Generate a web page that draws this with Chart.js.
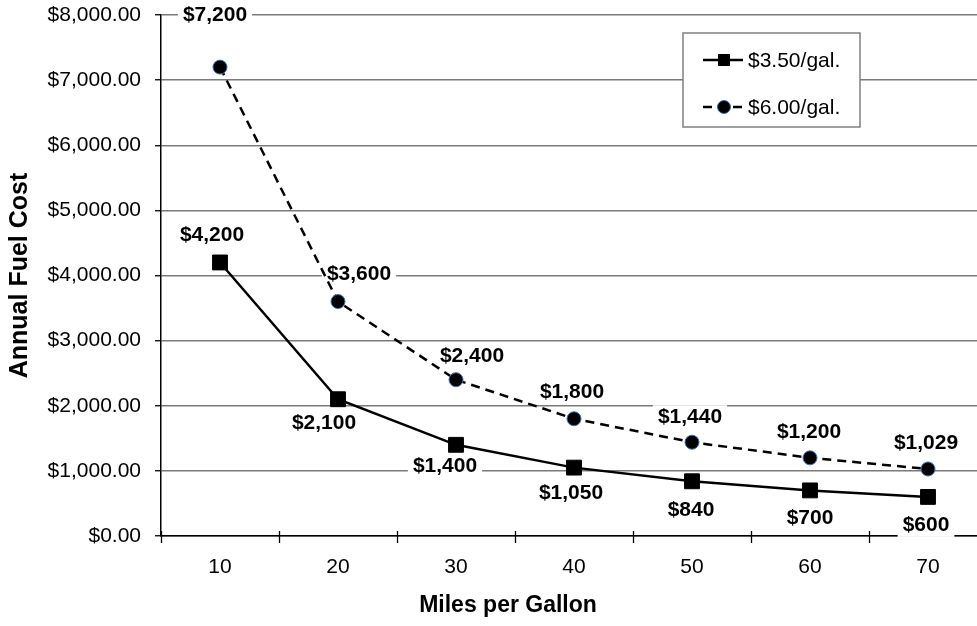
<!DOCTYPE html>
<html>
<head>
<meta charset="utf-8">
<script src="https://cdn.jsdelivr.net/npm/chart.js@4/dist/chart.umd.min.js"></script>
<style>
  html, body { margin: 0; padding: 0; overflow: hidden; background: #fff; width: 977px; height: 626px; }
  #wrap { width: 977px; height: 626px; overflow: hidden; position: relative; }
  canvas { display: block; }
</style>
</head>
<body>
<div id="wrap"><canvas id="fuel" width="1016" height="626"></canvas></div>
<script>
// Miles per gallon categories and the annual fuel cost at each price
const mpg = ['10', '20', '30', '40', '50', '60', '70'];
const cost350 = [4200, 2100, 1400, 1050, 840, 700, 600];
const cost600 = [7200, 3600, 2400, 1800, 1440, 1200, 1029];
const seriesNames = ['$3.50/gal.', '$6.00/gal.'];
const yMin = 0, yMax = 8000, yStep = 1000;
const xTitle = 'Miles per Gallon';
const yTitle = 'Annual Fuel Cost';

// where each value label sits relative to its marker (px)
const labelShift350 = [[-8, -27], [-14, 24], [-11, 21], [-3, 26], [-1, 29], [0, 28], [-2, 28]];
const labelShift600 = [[-5, -52], [21, -27], [16, -23], [-2, -27], [-2, -25], [-1, -26], [-2, -26]];

const FONT = '"Liberation Sans", Arial, Helvetica, sans-serif';
Chart.defaults.font.family = FONT;
Chart.defaults.color = '#000';

const money = v => '$' + Math.round(v).toLocaleString('en-US');
const axisMoney = v => '$' + Number(v).toLocaleString('en-US', { minimumFractionDigits: 2, maximumFractionDigits: 2 });

// value labels on white boxes: boxes go under the lines, text on top
const valueLabels = {
  id: 'valueLabels',
  items(chart) {
    const out = [];
    chart.data.datasets.forEach((ds, di) => {
      const meta = chart.getDatasetMeta(di);
      meta.data.forEach((pt, i) => {
        const [dx, dy] = ds.labelShift[i];
        out.push({ x: pt.x + dx, y: pt.y + dy, text: money(ds.data[i]) });
      });
    });
    return out;
  },
  beforeDatasetsDraw(chart) {
    const ctx = chart.ctx;
    ctx.save();
    ctx.font = 'bold 21px ' + FONT;
    ctx.fillStyle = '#fff';
    this.items(chart).forEach(it => {
      const w = ctx.measureText(it.text).width + 10;
      ctx.fillRect(it.x - w / 2, it.y - 12, w, 24);
    });
    ctx.restore();
  },
  afterDatasetsDraw(chart) {
    const ctx = chart.ctx;
    ctx.save();
    ctx.font = 'bold 21px ' + FONT;
    ctx.fillStyle = '#000';
    ctx.textAlign = 'center';
    ctx.textBaseline = 'middle';
    this.items(chart).forEach(it => ctx.fillText(it.text, it.x, it.y));
    ctx.restore();
  }
};

// tick marks crossing the category axis at the category boundaries
const crossTicks = {
  id: 'crossTicks',
  beforeDatasetsDraw(chart) {
    const xs = chart.scales.x, ctx = chart.ctx;
    const y = xs.top;
    ctx.save();
    ctx.strokeStyle = '#000';
    ctx.lineWidth = 1.3;
    for (let i = 0; i <= mpg.length; i++) {
      const x = Math.round(xs.getPixelForValue(i - 0.5)) + 0.5;
      ctx.beginPath();
      ctx.moveTo(x, y - 5);
      ctx.lineTo(x, y + 7);
      ctx.stroke();
    }
    ctx.restore();
  }
};

// horizontal axis title, centred under the visible plot
const xAxisTitle = {
  id: 'xAxisTitle',
  afterDraw(chart) {
    const ctx = chart.ctx;
    ctx.save();
    ctx.font = 'bold 23px ' + FONT;
    ctx.fillStyle = '#000';
    ctx.textAlign = 'center';
    ctx.textBaseline = 'middle';
    ctx.fillText(xTitle, 508, 606);
    ctx.restore();
  }
};

// boxed legend inside the plot, showing line + marker samples
const boxLegend = {
  id: 'boxLegend',
  afterDatasetsDraw(chart) {
    const ctx = chart.ctx;
    const bx = 683, by = 33, bw = 177, bh = 94;
    ctx.save();
    ctx.fillStyle = '#fff';
    ctx.fillRect(bx, by, bw, bh);
    ctx.strokeStyle = '#808080';
    ctx.lineWidth = 1.5;
    ctx.strokeRect(bx, by, bw, bh);
    const rows = [60, 107];
    chart.data.datasets.forEach((ds, i) => {
      const y = rows[i];
      ctx.strokeStyle = ds.borderColor;
      ctx.lineWidth = ds.borderWidth;
      ctx.setLineDash(ds.borderDash || []);
      ctx.beginPath();
      ctx.moveTo(703, y);
      ctx.lineTo(743, y);
      ctx.stroke();
      ctx.setLineDash([]);
      ctx.fillStyle = ds.pointBackgroundColor;
      if (ds.pointStyle === 'rect') {
        ctx.fillRect(724 - 6, y - 6, 12, 12);
      } else {
        ctx.beginPath();
        ctx.arc(724, y, 6.5, 0, Math.PI * 2);
        ctx.fill();
        ctx.strokeStyle = ds.pointBorderColor;
        ctx.lineWidth = 1;
        ctx.stroke();
      }
      ctx.fillStyle = '#000';
      ctx.font = '21px ' + FONT;
      ctx.textAlign = 'left';
      ctx.textBaseline = 'middle';
      ctx.fillText(ds.label, 748, y + 1);
    });
    ctx.restore();
  }
};

new Chart(document.getElementById('fuel'), {
  type: 'line',
  data: {
    labels: mpg,
    datasets: [
      {
        label: seriesNames[0],
        data: cost350,
        labelShift: labelShift350,
        borderColor: '#000',
        borderWidth: 2.5,
        tension: 0,
        pointStyle: 'rect',
        pointRadius: 10.5,
        pointBackgroundColor: '#000',
        pointBorderColor: '#000',
        pointBorderWidth: 1
      },
      {
        label: seriesNames[1],
        data: cost600,
        labelShift: labelShift600,
        borderColor: '#000',
        borderWidth: 2.5,
        borderDash: [9, 6],
        tension: 0,
        pointStyle: 'circle',
        pointRadius: 7,
        pointBackgroundColor: '#000',
        pointBorderColor: '#3f6fb0',
        pointBorderWidth: 1
      }
    ]
  },
  options: {
    responsive: false,
    animation: false,
    devicePixelRatio: 1,
    layout: { padding: { top: 15, right: 29, left: 0, bottom: 0 } },
    plugins: {
      legend: { display: false },
      tooltip: { enabled: false },
      title: { display: false }
    },
    scales: {
      x: {
        type: 'category',
        offset: true,
        grid: { offset: true, drawOnChartArea: false, drawTicks: false },
        border: { display: true, color: '#000', width: 1.5 },
        ticks: { font: { size: 21 }, padding: 19, maxRotation: 0 },
        afterFit(scale) { scale.height = 90; scale.paddingTop = 0; }
      },
      y: {
        min: yMin,
        max: yMax,
        ticks: {
          stepSize: yStep,
          font: { size: 21 },
          padding: 14,
          callback: v => axisMoney(v)
        },
        grid: { color: '#7a7a7a', lineWidth: 1.5, tickLength: 6, tickColor: '#000', tickWidth: 1.3 },
        border: { display: true, color: '#000', width: 1.5 },
        title: {
          display: true,
          text: yTitle,
          color: '#000',
          font: { size: 25, weight: 'bold' },
          padding: { top: 5, bottom: 0 }
        },
        afterFit(scale) { scale.width = 161; scale.paddingTop = 0; scale.paddingBottom = 0; }
      }
    }
  },
  plugins: [crossTicks, valueLabels, boxLegend, xAxisTitle]
});
</script>
</body>
</html>
